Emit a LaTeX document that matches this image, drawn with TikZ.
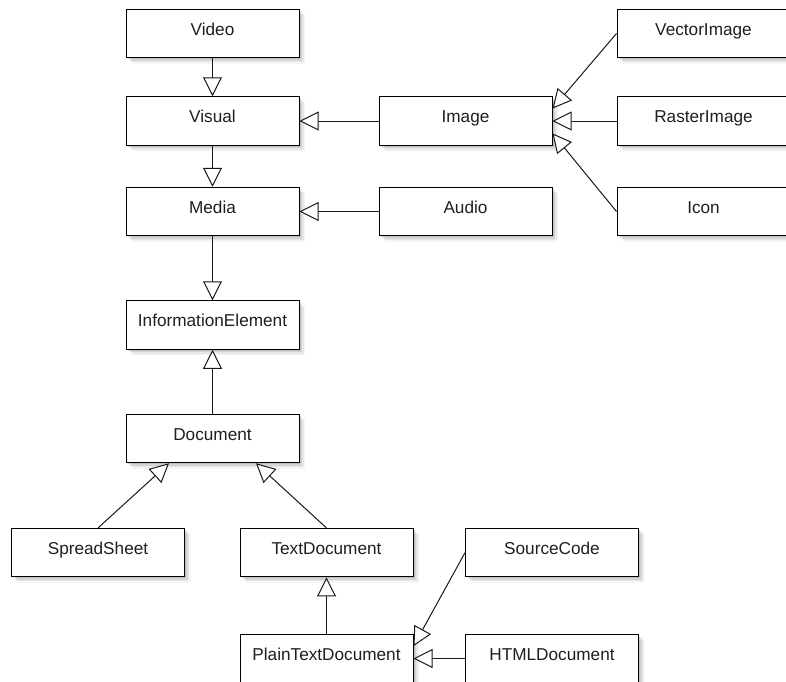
\documentclass[tikz,border=0pt]{standalone}
\usepackage{fontspec}
\setmainfont{Liberation Sans}
\usetikzlibrary{arrows.meta,calc,shadows}

\tikzset{
  softshadow/.style={
    drop shadow={shadow xshift=1.5pt, shadow yshift=-1.5pt, opacity=0.10, fill=black},
    drop shadow={shadow xshift=3pt, shadow yshift=-3pt, opacity=0.08, fill=black},
    drop shadow={shadow xshift=4.5pt, shadow yshift=-4.5pt, opacity=0.06, fill=black},
    drop shadow={shadow xshift=6pt, shadow yshift=-6pt, opacity=0.04, fill=black}
  },
  classbox/.style={
    draw=black, line width=1pt, fill=white, softshadow,
    minimum width=173pt, minimum height=48.5pt, inner sep=0pt,
    text height=13pt, text depth=9.4pt,
    text=black!88, font=\fontsize{17.2}{20}\selectfont
  },
  inherits/.style={
    draw=black!90, line width=1pt,
    -{Triangle[open, length=19pt, width=19pt, fill=white]}
  }
}

\begin{document}
\begin{tikzpicture}[x=1pt, y=-1pt]
  \useasboundingbox (0,0) rectangle (786,681);
  \clip (0,0) rectangle (786,681);

  % media hierarchy
  \node[classbox] (video)  at (212.5, 33.5) {Video};
  \node[classbox] (visual) at (212.5, 121) {Visual};
  \node[classbox] (media)  at (212.5, 211.5) {Media};
  \node[classbox] (infoel) at (212.5, 325) {InformationElement};
  \node[classbox] (doc)    at (212.5, 438.5) {Document};

  \node[classbox] (image) at (465.5, 121) {Image};
  \node[classbox] (audio) at (465.5, 211.5) {Audio};

  \node[classbox] (vector) at (703.5, 33.5) {VectorImage};
  \node[classbox] (raster) at (703.5, 121) {RasterImage};
  \node[classbox] (icon)   at (703.5, 211.5) {Icon};

  % document hierarchy
  \node[classbox] (spread)  at (98, 552.7) {SpreadSheet};
  \node[classbox] (textdoc) at (326.5, 552.7) {TextDocument};
  \node[classbox] (source)  at (552, 552.7) {SourceCode};
  \node[classbox] (plain)   at (326.5, 658.5) {PlainTextDocument};
  \node[classbox] (html)    at (552, 658.5) {HTMLDocument};

  % generalisation links
  \draw[inherits] (video.south) -- (visual.north);
  \draw[inherits] (visual.south) -- (media.north);
  \draw[inherits] (image.west) -- (visual.east);
  \draw[inherits] (audio.west) -- (media.east);
  \draw[inherits] (media.south) -- (infoel.north);
  \draw[inherits] (doc.north) -- (infoel.south);

  \draw[inherits] (vector.west) -- ($(image.north east)!0.25!(image.south east)$);
  \draw[inherits] (raster.west) -- (image.east);
  \draw[inherits] (icon.west) -- ($(image.north east)!0.75!(image.south east)$);

  \draw[inherits] (spread.north) -- ($(doc.south west)!0.25!(doc.south east)$);
  \draw[inherits] (textdoc.north) -- ($(doc.south west)!0.75!(doc.south east)$);
  \draw[inherits] (plain.north) -- (textdoc.south);
  \draw[inherits] (source.west) -- ($(plain.north east)!0.25!(plain.south east)$);
  \draw[inherits] (html.west) -- (plain.east);
\end{tikzpicture}
\end{document}
